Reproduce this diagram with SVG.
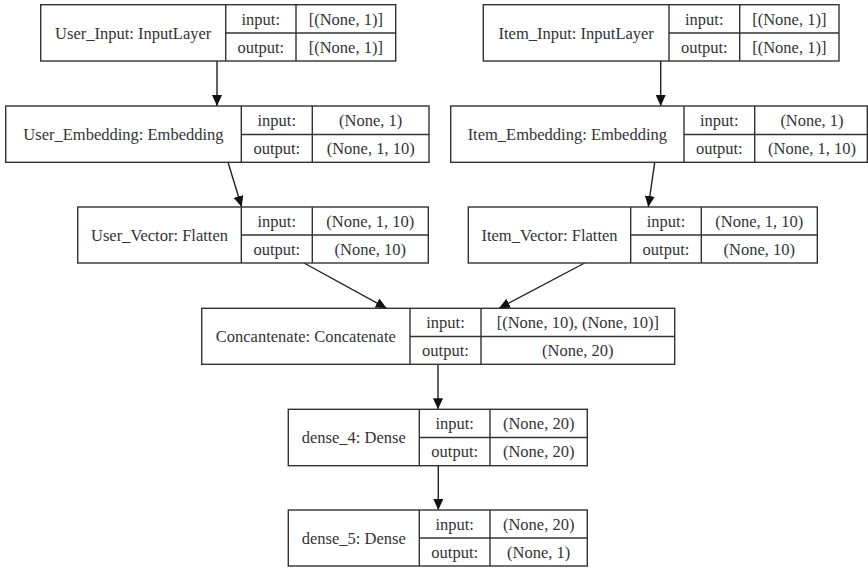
<svg xmlns="http://www.w3.org/2000/svg" width="868" height="568" viewBox="0 0 868 568">
<defs>
<style>
rect,line.d{fill:#fff;stroke:#333;stroke-width:1.4}
line.d{fill:none}
text{font-family:'Liberation Serif','DejaVu Serif','Times New Roman',serif;font-size:16.5px;fill:#333;text-anchor:middle}
.e line{stroke:#222;stroke-width:1.4}
</style>
<marker id="ah" markerUnits="userSpaceOnUse" markerWidth="12" markerHeight="10" refX="11" refY="5" orient="auto">
<path d="M0,0 L11,5 L0,10 Z" fill="#111"/>
</marker>
</defs>
<rect width="868" height="568" fill="#fff" style="stroke:none"/>

<g class="e" id="edges">
<line x1="217" y1="61" x2="217" y2="106" marker-end="url(#ah)"/>
<line x1="660.7" y1="61" x2="660.7" y2="106" marker-end="url(#ah)"/>
<line x1="228" y1="162.3" x2="241.7" y2="207" marker-end="url(#ah)"/>
<line x1="654.7" y1="162.3" x2="648.3" y2="207" marker-end="url(#ah)"/>
<line x1="304" y1="263" x2="386.7" y2="308.3" marker-end="url(#ah)"/>
<line x1="584.7" y1="263" x2="499" y2="308.3" marker-end="url(#ah)"/>
<line x1="438" y1="364.3" x2="438" y2="409.3" marker-end="url(#ah)"/>
<line x1="438.3" y1="465.7" x2="438.3" y2="510" marker-end="url(#ah)"/>
</g>

<g id="user_input">
<rect x="40.7" y="4.7" width="355" height="56.3"/>
<line class="d" x1="225.7" y1="4.7" x2="225.7" y2="61"/>
<line class="d" x1="296" y1="4.7" x2="296" y2="61"/>
<line class="d" x1="225.7" y1="33" x2="395.7" y2="33"/>
<text x="133.2" y="38.5" font-family="Liberation Serif, serif">User_Input: InputLayer</text>
<text x="260.8" y="24.5">input:</text>
<text x="260.8" y="52.5">output:</text>
<text x="345.8" y="24.5">[(None, 1)]</text>
<text x="345.8" y="52.5">[(None, 1)]</text>
</g>

<g id="item_input">
<rect x="483.3" y="4.7" width="355.7" height="56.3"/>
<line class="d" x1="669" y1="4.7" x2="669" y2="61"/>
<line class="d" x1="739.7" y1="4.7" x2="739.7" y2="61"/>
<line class="d" x1="669" y1="33" x2="839" y2="33"/>
<text x="576.2" y="38.5">Item_Input: InputLayer</text>
<text x="704.3" y="24.5">input:</text>
<text x="704.3" y="52.5">output:</text>
<text x="789.3" y="24.5">[(None, 1)]</text>
<text x="789.3" y="52.5">[(None, 1)]</text>
</g>

<g id="user_embedding">
<rect x="5.7" y="106" width="423.3" height="56.3"/>
<line class="d" x1="241.3" y1="106" x2="241.3" y2="162.3"/>
<line class="d" x1="312.3" y1="106" x2="312.3" y2="162.3"/>
<line class="d" x1="241.3" y1="134.5" x2="429" y2="134.5"/>
<text x="123.5" y="140">User_Embedding: Embedding</text>
<text x="276.8" y="126">input:</text>
<text x="276.8" y="154">output:</text>
<text x="370.7" y="126">(None, 1)</text>
<text x="370.7" y="154">(None, 1, 10)</text>
</g>

<g id="item_embedding">
<rect x="450.7" y="106" width="416.6" height="56.3"/>
<line class="d" x1="684" y1="106" x2="684" y2="162.3"/>
<line class="d" x1="754.7" y1="106" x2="754.7" y2="162.3"/>
<line class="d" x1="684" y1="134.5" x2="867.3" y2="134.5"/>
<text x="567.3" y="140">Item_Embedding: Embedding</text>
<text x="719.3" y="126">input:</text>
<text x="719.3" y="154">output:</text>
<text x="812" y="126">(None, 1)</text>
<text x="812" y="154">(None, 1, 10)</text>
</g>

<g id="user_vector">
<rect x="77.7" y="207" width="350.6" height="56"/>
<line class="d" x1="241.3" y1="207" x2="241.3" y2="263"/>
<line class="d" x1="312.3" y1="207" x2="312.3" y2="263"/>
<line class="d" x1="241.3" y1="235" x2="428.3" y2="235"/>
<text x="159.5" y="240.5">User_Vector: Flatten</text>
<text x="276.8" y="226.5">input:</text>
<text x="276.8" y="254.5">output:</text>
<text x="370.3" y="226.5">(None, 1, 10)</text>
<text x="370.3" y="254.5">(None, 10)</text>
</g>

<g id="item_vector">
<rect x="468.3" y="207" width="349" height="56"/>
<line class="d" x1="630.7" y1="207" x2="630.7" y2="263"/>
<line class="d" x1="701.3" y1="207" x2="701.3" y2="263"/>
<line class="d" x1="630.7" y1="235" x2="817.3" y2="235"/>
<text x="549.5" y="240.5">Item_Vector: Flatten</text>
<text x="666" y="226.5">input:</text>
<text x="666" y="254.5">output:</text>
<text x="759.3" y="226.5">(None, 1, 10)</text>
<text x="759.3" y="254.5">(None, 10)</text>
</g>

<g id="concatenate">
<rect x="201.7" y="308.3" width="473" height="56"/>
<line class="d" x1="410" y1="308.3" x2="410" y2="364.3"/>
<line class="d" x1="481" y1="308.3" x2="481" y2="364.3"/>
<line class="d" x1="410" y1="336.5" x2="674.7" y2="336.5"/>
<text x="305.8" y="342">Concantenate: Concatenate</text>
<text x="445.5" y="328">input:</text>
<text x="445.5" y="356">output:</text>
<text x="577.8" y="328">[(None, 10), (None, 10)]</text>
<text x="577.8" y="356">(None, 20)</text>
</g>

<g id="dense_4">
<rect x="288.3" y="409.3" width="299" height="56.4"/>
<line class="d" x1="419.3" y1="409.3" x2="419.3" y2="465.7"/>
<line class="d" x1="490" y1="409.3" x2="490" y2="465.7"/>
<line class="d" x1="419.3" y1="437.5" x2="587.3" y2="437.5"/>
<text x="353.8" y="443">dense_4: Dense</text>
<text x="454.7" y="429">input:</text>
<text x="454.7" y="457">output:</text>
<text x="538.7" y="429">(None, 20)</text>
<text x="538.7" y="457">(None, 20)</text>
</g>

<g id="dense_5">
<rect x="288.3" y="510" width="299" height="56"/>
<line class="d" x1="419.3" y1="510" x2="419.3" y2="566"/>
<line class="d" x1="490" y1="510" x2="490" y2="566"/>
<line class="d" x1="419.3" y1="538" x2="587.3" y2="538"/>
<text x="353.8" y="543.5">dense_5: Dense</text>
<text x="454.7" y="529.5">input:</text>
<text x="454.7" y="557.5">output:</text>
<text x="538.7" y="529.5">(None, 20)</text>
<text x="538.7" y="557.5">(None, 1)</text>
</g>
</svg>
